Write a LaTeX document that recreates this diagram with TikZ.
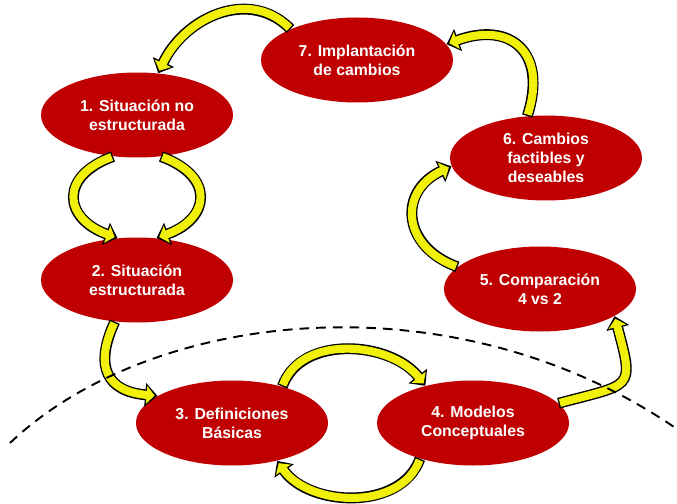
\documentclass[tikz,border=0pt]{standalone}
\usepackage{fontspec}
\setmainfont{Liberation Sans}
\usetikzlibrary{shapes.geometric,arrows.meta}

\definecolor{stagered}{RGB}{192,0,0}
\definecolor{flowyellow}{RGB}{240,240,10}

\tikzset{
	stage/.style={ellipse, fill=stagered, text=white, inner sep=0pt, align=center,
		minimum width=3.84cm, minimum height=1.70cm,
		font=\bfseries\fontsize{9}{10.8}\selectfont},
	flowedge/.style={line width=6.2pt, draw=black, -{Triangle[length=7pt,width=13pt]}},
	flowfill/.style={line width=4.6pt, draw=flowyellow, shorten >=1.6pt, shorten <=0.8pt,
		-{Triangle[length=4.6pt,width=10pt]}},
	cut/.style={line width=1.1pt, dash pattern=on 5.5pt off 4pt}
}

\begin{document}
\begin{tikzpicture}
	\useasboundingbox (0,0) rectangle (13.54,-10.08);
	
	\node[stage] (s1) at (2.74,-2.30) {1. Situación no\\estructurada};
	\node[stage] (s2) at (2.74,-5.60) {2. Situación\\estructurada};
	\node[stage] (s3) at (4.64,-8.46) {3. Definiciones\\Básicas};
	\node[stage] (s4) at (9.46,-8.46) {4. Modelos\\Conceptuales};
	\node[stage] (s5) at (10.80,-5.78) {5. Comparación\\4 vs 2};
	\node[stage] (s6) at (10.92,-3.16) {6. Cambios\\factibles y\\deseables};
	\node[stage] (s7) at (7.14,-1.20) {7. Implantación\\de cambios};
	
	\draw[flowedge] (s7.155) to[out=135,in=65,looseness=1.1] (s1.63);
	\draw[flowfill] (s7.155) to[out=135,in=65,looseness=1.1] (s1.63);
	\draw[flowedge] (s1.240) to[out=200,in=160,looseness=1.8] (s2.115);
	\draw[flowfill] (s1.240) to[out=200,in=160,looseness=1.8] (s2.115);
	\draw[flowedge] (s1.300) to[out=-20,in=20,looseness=1.8] (s2.65);
	\draw[flowfill] (s1.300) to[out=-20,in=20,looseness=1.8] (s2.65);
	\draw[flowedge] (s2.242) to[out=245,in=175,looseness=1.5] (s3.160);
	\draw[flowfill] (s2.242) to[out=245,in=175,looseness=1.5] (s3.160);
	\draw[flowedge] (s3.36) to[out=70,in=128] (s4.142);
	\draw[flowfill] (s3.36) to[out=70,in=128] (s4.142);
	\draw[flowedge] (s4.214) to[out=250,in=-55] (s3.-40);
	\draw[flowfill] (s4.214) to[out=250,in=-55] (s3.-40);
	\draw[flowedge] (s4.13) to[out=15,in=-75,looseness=1.9] (s5.-20);
	\draw[flowfill] (s4.13) to[out=15,in=-75,looseness=1.9] (s5.-20);
	\draw[flowedge] (s5.165) to[out=160,in=205,looseness=1.5] (s6.185);
	\draw[flowfill] (s5.165) to[out=160,in=205,looseness=1.5] (s6.185);
	\draw[flowedge] (s6.114) to[out=72,in=20,looseness=1.6] (s7.10);
	\draw[flowfill] (s6.114) to[out=72,in=20,looseness=1.6] (s7.10);
	
	\draw[cut] (0.2,-8.86) .. controls (3.0,-6.2) and (9.0,-5.5) .. (13.48,-8.54);
\end{tikzpicture}
\end{document}
